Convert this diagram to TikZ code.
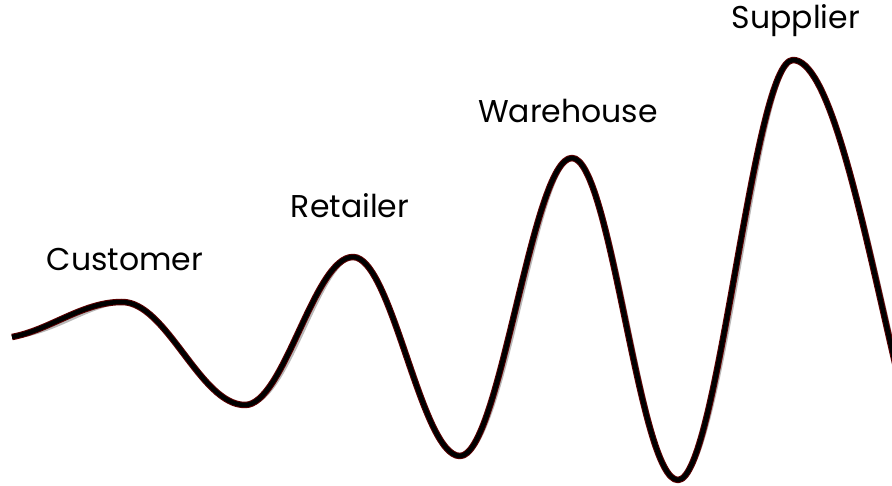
\documentclass[tikz,border=0pt]{standalone}
\usepackage{fontspec}
\setmainfont{Poppins}
\definecolor{edgered}{HTML}{5A0000}
\begin{document}
\begin{tikzpicture}[x=1pt,y=-1pt,
  lbl/.style={font=\fontsize{31.5}{34}\selectfont, text=black, inner sep=0pt},
  wave/.style={line join=round}]
\useasboundingbox (0,0) rectangle (892,486);
\clip (0,0) rectangle (892,486);
\coordinate (s) at (12,337);
\coordinate (p1) at (122,302);
\coordinate (t1) at (245,405);
\coordinate (p2) at (353,257);
\coordinate (t2) at (460,456);
\coordinate (p3) at (572,158);
\coordinate (t3) at (678,480);
\coordinate (p4) at (793,60);
\coordinate (t4) at (975,570);
\def\wavepath{(s) .. controls (50,330) and (82,302) .. (p1)
  .. controls (167,302) and (200,405) .. (t1)
  .. controls (284,405) and (314,257) .. (p2)
  .. controls (392,257) and (421,456) .. (t2)
  .. controls (500,456) and (532,158) .. (p3)
  .. controls (611,158) and (639,480) .. (t3)
  .. controls (718,480) and (753,60) .. (p4)
  .. controls (859,60) and (909,570) .. (t4)}
\begin{scope}[shift={(3.5,4)}]
\draw[wave, line width=3.5pt, black!28] \wavepath;
\end{scope}
\draw[wave, line width=6.5pt, edgered] \wavepath;
\draw[wave, line width=4.5pt, black] \wavepath;
\node[lbl] (customer) at (125,260) {Customer};
\node[lbl] (retailer) at (350,206) {Retailer};
\node[lbl] (warehouse) at (568,111) {Warehouse};
\node[lbl] (supplier) at (796,21) {Supplier};
\end{tikzpicture}
\end{document}
